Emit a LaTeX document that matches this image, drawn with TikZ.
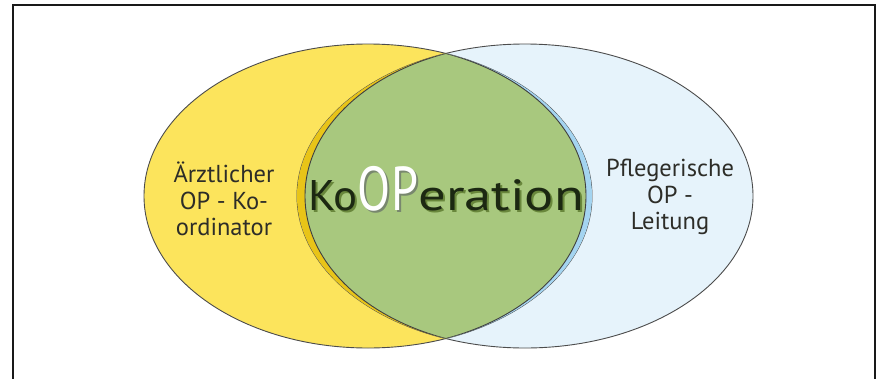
\documentclass[tikz,border=0pt]{standalone}
\usepackage{fontspec}
\setmainfont{PT Sans}
\definecolor{ylw}{RGB}{252,228,92}
\definecolor{blu}{RGB}{230,243,251}
\definecolor{grn}{RGB}{168,200,126}
\definecolor{dylw}{RGB}{232,196,24}
\definecolor{lblu}{RGB}{164,212,240}
\definecolor{txt}{RGB}{45,45,40}
\definecolor{dk}{RGB}{28,40,18}
\definecolor{shd}{RGB}{105,135,60}
\definecolor{oshd}{RGB}{120,135,110}
\tikzset{
  outline/.style={draw=black!70, line width=0.9pt},
  label/.style={align=center, text=txt, font=\fontsize{24.5}{26.5}\selectfont, inner sep=0pt},
  word/.style={anchor=base west, inner sep=0pt},
}
\newcommand{\kotext}{\scalebox{1.07}[1.02]{Ko}}
\newcommand{\optext}{\scalebox{0.78}[1]{\fontsize{62}{62}\selectfont OP}}
\newcommand{\ertext}{\scalebox{1.3}[1.04]{eration}}
\begin{document}
\begin{tikzpicture}[x=1pt,y=-1pt]
\useasboundingbox (0,0) rectangle (884,378);
\fill[white] (0,0) rectangle (884,378);
% frame
\draw[line width=2pt, black!90] (12.5,380) -- (12.5,5) -- (875,5) -- (875,380);
% ellipses
\fill[ylw] (368,196) ellipse (224 and 152);
\fill[blu] (525,196) ellipse (228 and 152);
\draw[outline] (368,196) ellipse (224 and 152);
\draw[outline] (525,196) ellipse (228 and 152);
% lens
\begin{scope}
  \clip (368,196) ellipse (224 and 152);
  \clip (525,196) ellipse (228 and 152);
  \fill[dylw] (280,30) rectangle (447,370);
  \fill[lblu] (447,30) rectangle (620,370);
  \begin{scope}
    \clip (521,196) ellipse (216 and 152);
    \fill[grn] (371,196) ellipse (215 and 152);
  \end{scope}
  \begin{scope}
    \clip (521,196) ellipse (216 and 152);
    \draw[black!75, line width=0.9pt] (371,196) ellipse (215 and 152);
  \end{scope}
  \begin{scope}
    \clip (371,196) ellipse (215 and 152);
    \draw[black!75, line width=0.9pt] (521,196) ellipse (216 and 152);
  \end{scope}
\end{scope}
% labels
\node[label] (arzt) at (224,199) {Ärztlicher\\OP - Ko-\\ordinator};
\node[label] (pfl) at (670,197) {Pflegerische\\OP -\\Leitung};
% KoOPeration with shadows
\begin{scope}[font=\fontsize{42}{42}\selectfont]
  \node[word, text=shd] (koshadow) at (310,212) {\kotext};
  \node[word, text=dk] (ko) at (308,210) {\kotext};
  \node[word, text=oshd, xshift=2pt, yshift=-2pt] (opshadow) at (ko.base east) {\optext};
  \node[word, text=white] (op) at (ko.base east) {\optext};
  \node[word, text=shd, xshift=2pt, yshift=-2pt] (ershadow) at (op.base east) {\ertext};
  \node[word, text=dk] (er) at (op.base east) {\ertext};
\end{scope}
\end{tikzpicture}
\end{document}
